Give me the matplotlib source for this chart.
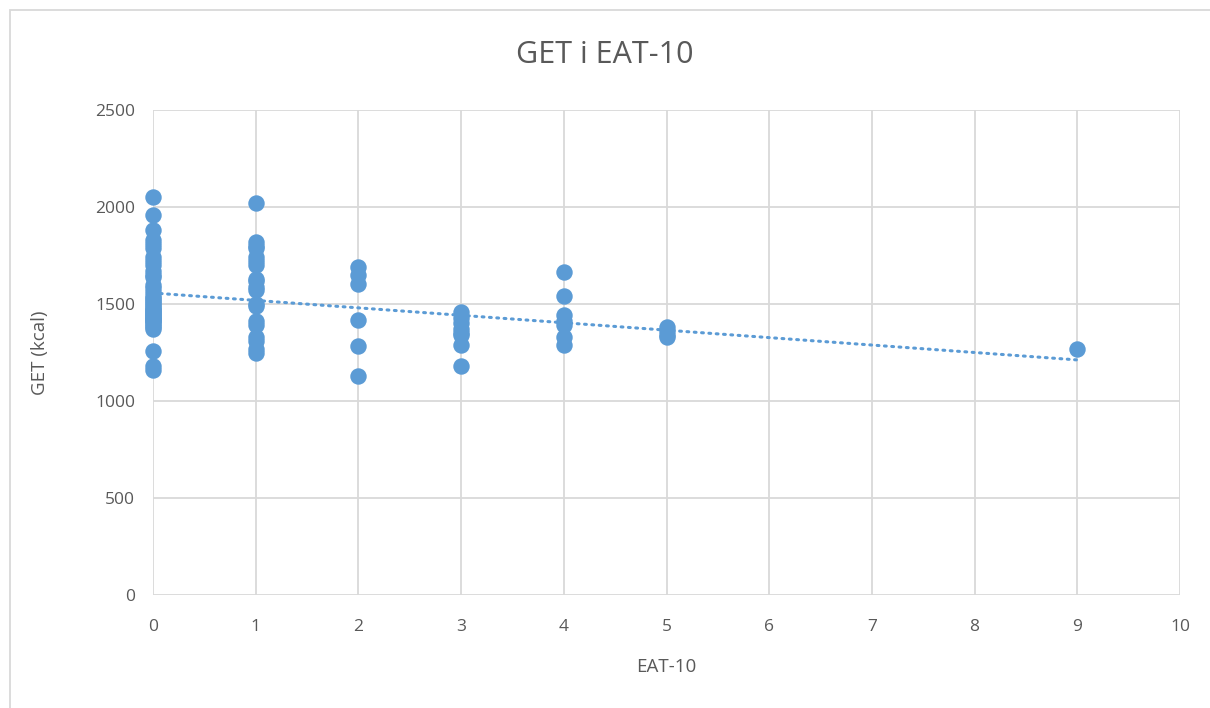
import numpy as np
import matplotlib.pyplot as plt
from matplotlib.patches import Rectangle

# EAT-10 score and total energy expenditure (GET, kcal) per patient
eat0 = [2050, 1960, 1880, 1830, 1810, 1790, 1740, 1720, 1700, 1670, 1650, 1640,
        1600, 1580, 1560, 1540, 1530, 1520, 1510, 1500, 1490, 1480, 1470, 1470,
        1460, 1450, 1450, 1440, 1430, 1430, 1420, 1420, 1410, 1400, 1390, 1380,
        1370, 1260, 1180, 1160]
eat1 = [2020, 1820, 1800, 1790, 1740, 1720, 1700, 1630, 1620, 1590, 1570, 1500,
        1490, 1410, 1390, 1330, 1310, 1270, 1250]
eat2 = [1690, 1650, 1605, 1415, 1285, 1130]
eat3 = [1460, 1430, 1400, 1370, 1350, 1340, 1290, 1180]
eat4 = [1665, 1540, 1445, 1410, 1390, 1330, 1290]
eat5 = [1380, 1360, 1340, 1330]
eat9 = [1270]

groups = {0: eat0, 1: eat1, 2: eat2, 3: eat3, 4: eat4, 5: eat5, 9: eat9}
x = np.concatenate([[k] * len(v) for k, v in groups.items()])
y = np.concatenate([v for v in groups.values()])

blue = '#5B9BD5'
txt = '#595959'
grid = '#D9D9D9'

plt.rcParams['font.family'] = ['Open Sans', 'DejaVu Sans']

fig = plt.figure(figsize=(12.1, 7.08), dpi=100)
ax = fig.add_axes([153 / 1210, 1 - 595 / 708, 1027 / 1210, 485 / 708])

ax.scatter(x, y, s=140, color=blue, zorder=3, linewidths=0, clip_on=False)

# linear trend line
slope, icpt = np.polyfit(x, y, 1)
xt = np.array([0, 9])
ax.plot(xt, icpt + slope * xt, color=blue, lw=2.2, ls=(0, (0.6, 1.8)),
        dash_capstyle='round', zorder=2)

ax.set_xlim(0, 10)
ax.set_ylim(0, 2500)
ax.set_xticks(range(0, 11))
ax.set_yticks(range(0, 2501, 500))
ax.grid(True, color=grid, lw=1.3, zorder=0)
ax.set_axisbelow(True)
for s in ax.spines.values():
    s.set_visible(False)
ax.tick_params(length=0, labelsize=12.5, labelcolor=txt)
ax.tick_params(axis='x', pad=17)
ax.tick_params(axis='y', pad=13)

ax.set_xlabel('EAT-10', fontsize=13.5, color=txt, labelpad=17)
ax.set_ylabel('GET (kcal)', fontsize=13.5, color=txt, labelpad=33)
fig.text(0.5, 1 - 55 / 708, 'GET i EAT-10', ha='center', va='center',
         fontsize=22, color=txt)

fig.patches.append(Rectangle((10 / 1210, -0.1), 1.2, 1 - 10 / 708 + 0.1,
                             transform=fig.transFigure, fill=False,
                             edgecolor=grid, lw=1.3))

fig.savefig('out.png', dpi=100)
